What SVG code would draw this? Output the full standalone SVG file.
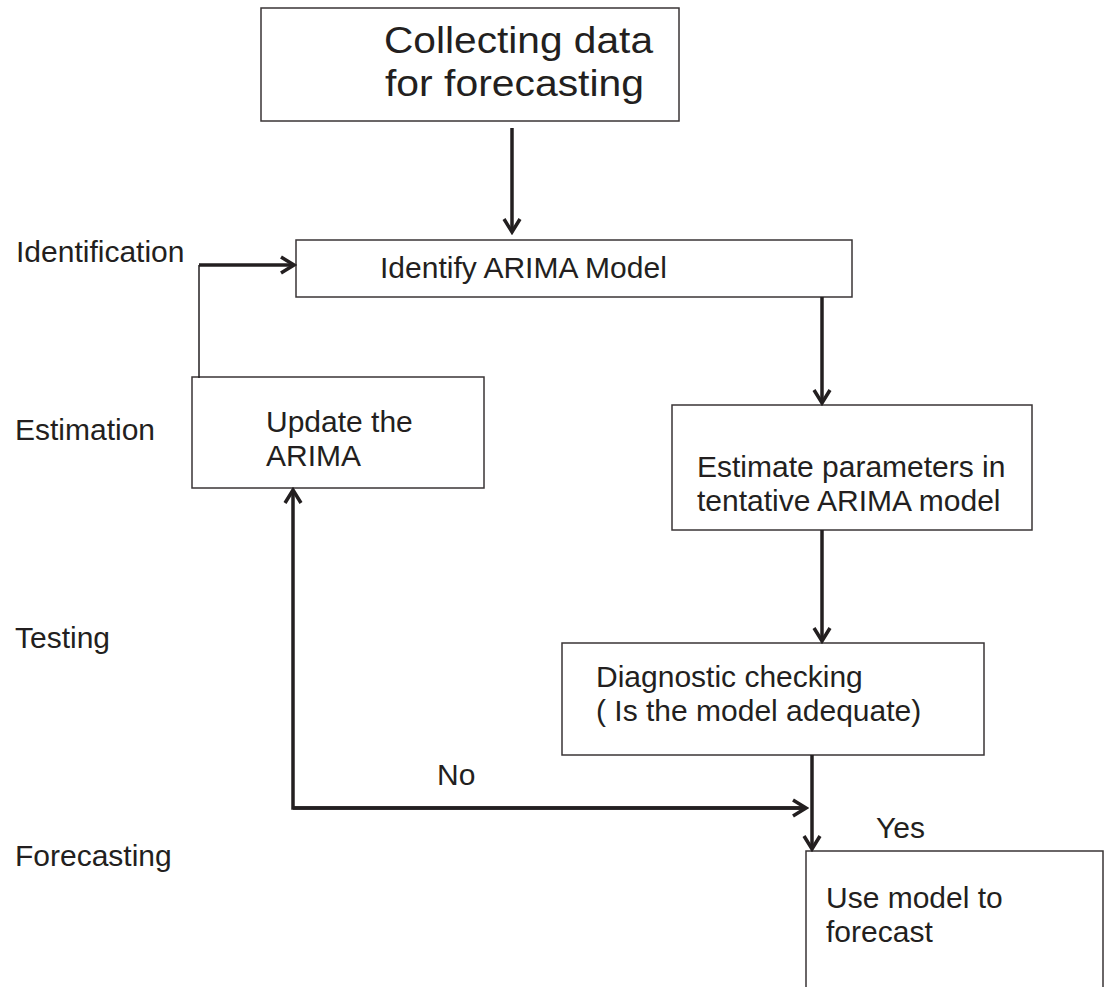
<svg xmlns="http://www.w3.org/2000/svg" width="1111" height="987" viewBox="0 0 1111 987">
<style>
.box{fill:#fff;stroke:#3a3536;stroke-width:1.5}
.t{font-family:"Liberation Sans",Arial,sans-serif;font-size:30px;fill:#231f20}
.title{font-family:"Liberation Sans",Arial,sans-serif;font-size:37px;fill:#231f20}
.c{fill:none;stroke:#231f20;stroke-width:3.5}
.thin{fill:none;stroke:#231f20;stroke-width:1.5}
</style>
<defs>
<marker id="ah" markerUnits="userSpaceOnUse" markerWidth="18" markerHeight="20" refX="15" refY="10" orient="auto">
<path d="M2,2 L15,10 L2,18" fill="none" stroke="#231f20" stroke-width="3.5"/>
</marker>
</defs>
<rect width="1111" height="987" fill="#fff"/>
<g id="labels">
<text class="t" x="16" y="262">Identification</text>
<text class="t" x="15" y="440">Estimation</text>
<text class="t" x="15" y="648">Testing</text>
<text class="t" x="15" y="866">Forecasting</text>
<text class="t" x="437" y="785">No</text>
<text class="t" x="876" y="838">Yes</text>
</g>
<g id="collect">
<rect class="box" x="261" y="8" width="418" height="113"/>
<text class="title" x="384" y="53" textLength="269" lengthAdjust="spacingAndGlyphs">Collecting data</text>
<text class="title" x="385" y="96" textLength="259" lengthAdjust="spacingAndGlyphs">for forecasting</text>
</g>
<g id="identify">
<rect class="box" x="296" y="240" width="556" height="57"/>
<text class="t" x="380" y="278">Identify ARIMA Model</text>
</g>
<g id="update">
<rect class="box" x="192" y="377" width="292" height="111"/>
<text class="t" x="266" y="432">Update the</text>
<text class="t" x="266" y="466">ARIMA</text>
</g>
<g id="estimate">
<rect class="box" x="672" y="405" width="360" height="125"/>
<text class="t" x="697" y="477">Estimate parameters in</text>
<text class="t" x="697" y="511">tentative ARIMA model</text>
</g>
<g id="diagnostic">
<rect class="box" x="562" y="643" width="422" height="112"/>
<text class="t" x="596" y="687">Diagnostic checking</text>
<text class="t" x="596" y="721">( Is the model adequate)</text>
</g>
<g id="forecast">
<path class="box" d="M806,990 V851 H1103 V990"/>
<text class="t" x="826" y="908">Use model to</text>
<text class="t" x="826" y="942">forecast</text>
</g>
<g id="connectors">
<line class="c" x1="512" y1="128" x2="512" y2="232" marker-end="url(#ah)"/>
<line class="thin" x1="199" y1="378" x2="199" y2="265"/>
<line class="c" x1="199" y1="265" x2="294" y2="265" marker-end="url(#ah)"/>
<line class="c" x1="822" y1="297" x2="822" y2="403" marker-end="url(#ah)"/>
<line class="c" x1="822" y1="530" x2="822" y2="641" marker-end="url(#ah)"/>
<polyline class="c" points="806,808 293,808 293,490" marker-end="url(#ah)"/>
<line class="c" x1="293" y1="808" x2="806" y2="808" marker-end="url(#ah)"/>
<line class="c" x1="812" y1="755" x2="812" y2="849" marker-end="url(#ah)"/>
</g>
</svg>
